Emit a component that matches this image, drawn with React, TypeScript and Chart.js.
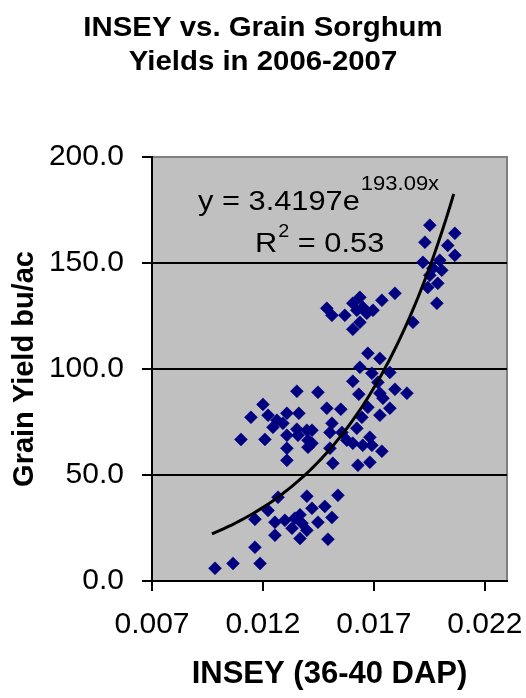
import React, { useEffect, useRef } from "react";
import { Chart, registerables } from "chart.js";

Chart.register(...registerables);

const TITLE_LINES = ["INSEY vs. Grain Sorghum", "Yields in 2006-2007"];
const X_AXIS_TITLE = "INSEY (36-40 DAP)";
const Y_AXIS_TITLE = "Grain Yield bu/ac";

const X_TICKS = [0.007, 0.012, 0.017, 0.022];
const Y_TICKS = [0, 50, 100, 150, 200];
const X_MIN = 0.007;
const X_MAX = 0.023;
const Y_MIN = 0;
const Y_MAX = 200;

// Exponential trendline shown on the chart: y = 3.4197 e^(193.09x), R^2 = 0.53
const TREND_A = 3.4197;
const TREND_B = 193.09;
const TREND_X_START = 0.0097;
const TREND_X_END = 0.0206;
const EQ_MAIN = "y = 3.4197e";
const EQ_EXP = "193.09x";
const R_MAIN = "R";
const R_SUP = "2";
const R_REST = " = 0.53";

// Observed INSEY (36-40 DAP) values
const INSEY = [
  0.01952, 0.0193, 0.02065, 0.02033, 0.02065, 0.01921, 0.01997, 0.02006, 0.01966, 0.01952,
  0.01988, 0.01943, 0.01984, 0.01876,
  0.01488, 0.01511, 0.01569, 0.01605, 0.01637, 0.0165, 0.01623, 0.01637, 0.01605, 0.01696,
  0.01668, 0.01736, 0.01795,
  0.01673, 0.01727, 0.01637, 0.01691, 0.01772, 0.01605, 0.01718, 0.01448, 0.01632, 0.01727,
  0.01795, 0.01849, 0.01741, 0.01673, 0.01488, 0.01551, 0.01772, 0.01727, 0.01646, 0.01511,
  0.01502, 0.01623, 0.01556, 0.01682, 0.01578, 0.01605, 0.0165, 0.01691, 0.01502, 0.01736,
  0.01515, 0.01628, 0.01682, 0.01421, 0.01421,
  0.01353, 0.012, 0.01146, 0.01223, 0.01308, 0.01362, 0.01263, 0.0129, 0.01245, 0.01353,
  0.01398, 0.01308, 0.01358, 0.01403, 0.01403, 0.01101, 0.01209, 0.01308, 0.01308,
  0.01268, 0.01398, 0.01538, 0.01223, 0.01421, 0.01479, 0.01164, 0.01254, 0.01344, 0.01376,
  0.01448, 0.01511, 0.01331, 0.01398, 0.01254, 0.01367, 0.01493, 0.01164, 0.01187, 0.01065,
  0.00984, 0.01299, 0.01367,
];

// Observed grain yields (bu/ac), same order as INSEY
const YIELD = [
  167.8, 159.8, 164.0, 158.3, 153.6, 150.3, 151.3, 146.6, 147.5, 144.2,
  140.4, 138.5, 131.0, 122.0,
  128.6, 125.3, 125.3, 131.0, 133.8, 129.1, 127.7, 122.0, 118.7, 127.7,
  126.3, 132.4, 135.7,
  107.4, 105.0, 100.8, 98.0, 98.4, 94.2, 93.7, 89.0, 88.1, 88.6,
  90.4, 88.6, 86.2, 81.9, 81.5, 81.0, 81.5, 78.2, 77.2, 74.4,
  70.1, 72.0, 70.1, 67.8, 66.4, 65.0, 64.0, 64.0, 62.6, 61.2,
  55.5, 54.6, 56.0, 71.1, 65.0,
  89.5, 83.3, 77.2, 78.2, 79.1, 79.1, 75.8, 74.4, 72.5, 71.6,
  71.1, 68.7, 68.7, 66.4, 63.1, 66.8, 66.8, 62.6, 56.9,
  39.5, 40.0, 40.4, 33.3, 34.3, 35.2, 29.1, 27.7, 29.6, 27.2,
  27.7, 30.0, 24.9, 23.9, 21.6, 20.1, 19.7, 15.9, 8.3, 8.3,
  6.0, 28.6, 31.2,
];

const FONT = "'Liberation Sans', Arial, sans-serif";

function trendPoints() {
  const pts: { x: number; y: number }[] = [];
  const n = 60;
  for (let i = 0; i <= n; i++) {
    const x = TREND_X_START + ((TREND_X_END - TREND_X_START) * i) / n;
    pts.push({ x, y: TREND_A * Math.exp(TREND_B * x) });
  }
  return pts;
}

const plotBackground = {
  id: "plotBackground",
  beforeDraw(chart: any) {
    const { ctx, chartArea } = chart;
    const { left, top, right, bottom } = chartArea;
    ctx.save();
    ctx.fillStyle = "#c0c0c0";
    ctx.fillRect(left, top, right - left, bottom - top);
    ctx.strokeStyle = "#808080";
    ctx.lineWidth = 2;
    ctx.beginPath();
    ctx.moveTo(left, top);
    ctx.lineTo(right, top);
    ctx.lineTo(right, bottom);
    ctx.stroke();
    ctx.restore();
  },
};

function stretchedText(ctx: any, text: string, x: number, y: number, sx: number, align: string) {
  ctx.save();
  ctx.textAlign = align;
  ctx.scale(sx, 1);
  ctx.fillText(text, x / sx, y);
  ctx.restore();
  return ctx.measureText(text).width * sx;
}

const textOverlay = {
  id: "textOverlay",
  afterDraw(chart: any) {
    const { ctx } = chart;
    ctx.save();
    ctx.fillStyle = "#000";
    ctx.textBaseline = "alphabetic";
    // title
    ctx.font = `bold 28px ${FONT}`;
    stretchedText(ctx, TITLE_LINES[0], 263, 36, 1.05, "center");
    stretchedText(ctx, TITLE_LINES[1], 263, 70, 1.05, "center");
    // equation
    const sx = 1.1;
    ctx.font = `28px ${FONT}`;
    let w = stretchedText(ctx, EQ_MAIN, 198, 210, sx, "left");
    ctx.font = `20px ${FONT}`;
    stretchedText(ctx, EQ_EXP, 198 + w + 1, 190, sx, "left");
    ctx.font = `28px ${FONT}`;
    w = stretchedText(ctx, R_MAIN, 255, 252, sx, "left");
    ctx.font = `18px ${FONT}`;
    const w2 = stretchedText(ctx, R_SUP, 255 + w + 1, 237, sx, "left");
    ctx.font = `28px ${FONT}`;
    stretchedText(ctx, R_REST, 255 + w + w2 + 1, 252, sx, "left");
    ctx.restore();
  },
};

export default function App() {
  const canvasRef = useRef<HTMLCanvasElement | null>(null);

  useEffect(() => {
    if (!canvasRef.current) return;
    const points = INSEY.map((x, i) => ({ x, y: YIELD[i] }));
    const chart = new Chart(canvasRef.current, {
      type: "scatter",
      data: {
        datasets: [
          {
            label: "Expon. trend",
            data: trendPoints(),
            showLine: true,
            borderColor: "#000",
            borderWidth: 3,
            pointRadius: 0,
            tension: 0,
          } as any,
          {
            label: "Grain yield",
            data: points,
            pointStyle: "rectRot",
            pointRadius: 6.5,
            backgroundColor: "#000080",
            borderColor: "#000080",
            borderWidth: 0.5,
          },
        ],
      },
      options: {
        animation: false,
        responsive: true,
        maintainAspectRatio: false,
        events: [],
        layout: { padding: { top: 157, right: 19, left: 0, bottom: 0 } },
        plugins: {
          legend: { display: false },
          tooltip: { enabled: false },
          title: { display: false },
        },
        scales: {
          x: {
            type: "linear",
            min: X_MIN,
            max: X_MAX,
            afterBuildTicks: (s: any) => {
              s.ticks = X_TICKS.map((v) => ({ value: v }));
            },
            afterFit: (s: any) => {
              s.height = 117;
              s.paddingLeft = 0;
              s.paddingRight = 0;
            },
            border: { color: "#000", width: 2 },
            grid: {
              drawOnChartArea: false,
              drawTicks: true,
              tickLength: 10,
              tickColor: "#000",
              lineWidth: 2,
            },
            ticks: {
              color: "#000",
              font: { family: FONT, size: 30 },
              padding: 16,
              maxRotation: 0,
              autoSkip: false,
              callback: (v: any) => Number(v).toFixed(3),
            },
            title: {
              display: true,
              text: X_AXIS_TITLE,
              color: "#000",
              font: { family: FONT, size: 31, weight: "bold" },
              padding: { top: 0, bottom: 5 },
            },
          },
          y: {
            type: "linear",
            min: Y_MIN,
            max: Y_MAX,
            afterBuildTicks: (s: any) => {
              s.ticks = Y_TICKS.map((v) => ({ value: v }));
            },
            afterFit: (s: any) => {
              s.width = 152;
              s.paddingTop = 0;
              s.paddingBottom = 0;
            },
            border: { color: "#000", width: 2 },
            grid: {
              drawTicks: true,
              tickLength: 10,
              tickColor: "#000",
              lineWidth: 2,
              color: (c: any) =>
                c.tick && (c.tick.value === Y_MAX || c.tick.value === Y_MIN)
                  ? "rgba(0,0,0,0)"
                  : "#000",
            },
            ticks: {
              color: "#000",
              font: { family: FONT, size: 30 },
              padding: 18,
              autoSkip: false,
              callback: (v: any) => Number(v).toFixed(1),
            },
            title: {
              display: true,
              text: Y_AXIS_TITLE,
              color: "#000",
              font: { family: FONT, size: 29, weight: "bold" },
              padding: { top: 8, bottom: 0 },
            },
          },
        },
      },
      plugins: [plotBackground, textOverlay],
    });
    return () => chart.destroy();
  }, []);

  return (
    <div style={{ position: "absolute", left: 0, top: 0, width: 526, height: 698, background: "#fff" }}>
      <canvas ref={canvasRef} />
    </div>
  );
}
